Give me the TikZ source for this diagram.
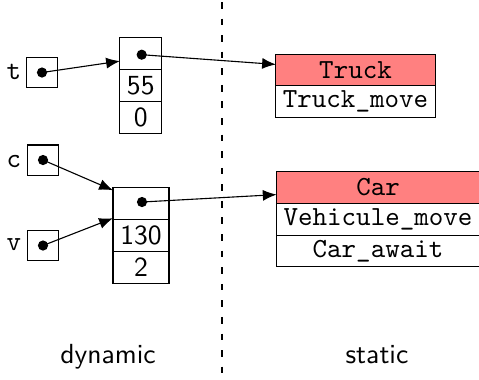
\documentclass[tikz,border=0pt]{standalone}
\usepackage{tikz}
\usetikzlibrary{arrows.meta,positioning}

\begin{document}
\begin{tikzpicture}[x=0.362pt,y=-0.362pt,
  ptr/.style={draw,minimum size=10.9pt,inner sep=0pt,outer sep=0pt},
  cell/.style={draw,minimum height=11.6pt,inner sep=0pt,outer sep=0pt,font=\sffamily},
  meth/.style={draw,minimum height=11.5pt,inner sep=0pt,outer sep=0pt,font=\ttfamily,fill=white},
  cls/.style={meth,fill=red!50},
  dot/.style={circle,fill,inner sep=0pt,minimum size=3.7pt},
  >={Latex[length=5pt,width=4pt]}]
\useasboundingbox (0,0) rectangle (479,379);
\draw[dash pattern=on 2.4pt off 3.6pt] (222,2) -- (222,379);
% variables
\node[ptr] (VART) at (42,72.5) {};
\node[ptr] (VARC) at (43,160) {};
\node[ptr] (VARV) at (43,245.5) {};
\node[font=\ttfamily] at (14,72) {t};
\node[font=\ttfamily] at (14,161) {c};
\node[font=\ttfamily] at (14,245) {v};
% objects
\node[cell,minimum width=15.1pt] (OBJT1) at (140.8,53.5) {};
\node[cell,minimum width=15.1pt,below=0pt of OBJT1] (OBJT2) {55};
\node[cell,minimum width=15.1pt,below=0pt of OBJT2] (OBJT3) {0};
\node[cell,minimum width=20.3pt] (OBJC1) at (141,203.3) {};
\node[cell,minimum width=20.3pt,below=0pt of OBJC1] (OBJC2) {130};
\node[cell,minimum width=20.3pt,below=0pt of OBJC2] (OBJC3) {2};
% classes
\node[cls,minimum width=57.6pt] (TRUCK) at (355.5,70) {Truck};
\node[meth,minimum width=57.6pt,below=0pt of TRUCK] (TRUCKM1) {Truck\_move};
\node[cls,minimum width=73.4pt] (CAR) at (378,187.5) {Car};
\node[meth,minimum width=73.4pt,below=0pt of CAR] (CARM1) {Vehicule\_move};
\node[meth,minimum width=73.4pt,below=0pt of CARM1] (CARM2) {Car\_await};
% pointers
\node[dot] (DOTT) at (VART.center) {};
\node[dot] (DOTC) at (VARC.center) {};
\node[dot] (DOTV) at (VARV.center) {};
\node[dot] (DOTOT) at (141.7,54.7) {};
\node[dot] (DOTOC) at (142,202) {};
\draw[->] (DOTT.center) -- (OBJT1.200);
\draw[->] (DOTC.center) -- (OBJC1.155);
\draw[->] (DOTV.center) -- (OBJC1.208);
\draw[->] (DOTOT.center) -- (TRUCK.176);
\draw[->] (DOTOC.center) -- (CAR.184);
\node[font=\sffamily,anchor=base] at (108,363) {dynamic};
\node[font=\sffamily,anchor=base] at (377,363) {static};
\end{tikzpicture}
\end{document}
